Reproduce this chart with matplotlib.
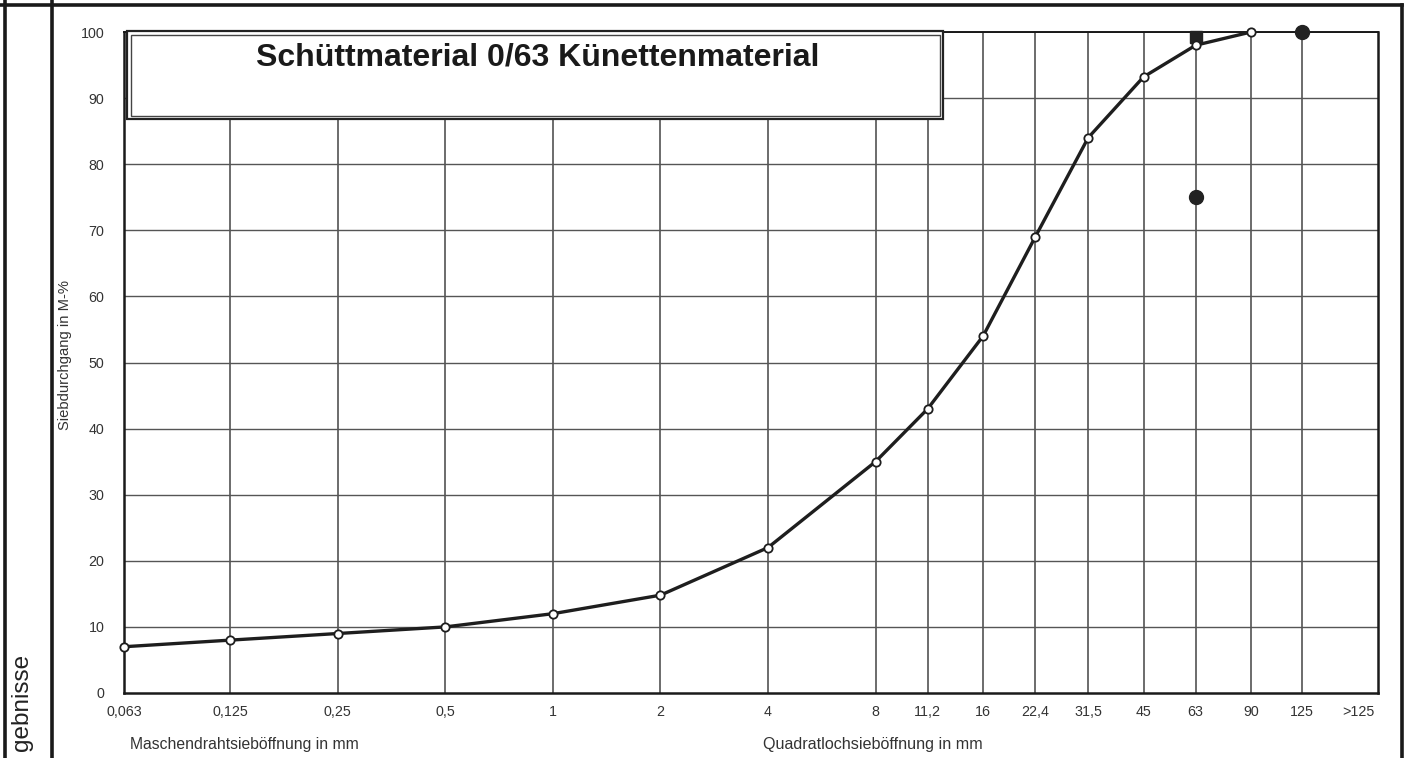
"""
Sieve analysis chart (Sieblinie) - Schüttmaterial 0/63 Künettenmaterial
"""
import matplotlib
matplotlib.use("Agg")
import matplotlib.pyplot as plt
from matplotlib.lines import Line2D
from matplotlib.patches import Rectangle
from matplotlib.ticker import FixedLocator, NullLocator

plt.rcParams["font.family"] = ["Liberation Sans", "DejaVu Sans"]

# sieve sizes (mm) and passing (M-%)
sieve_mm = [0.063, 0.125, 0.25, 0.5, 1, 2, 4, 8, 11.2, 16, 22.4, 31.5, 45, 63, 90]
passing = [7, 8, 9, 10, 12, 14.8, 22, 35, 43, 54, 69, 84, 93.2, 98, 100]

# limit points (black dots)
limit_x = [63, 63, 125]
limit_y = [99.2, 75, 100]

tick_pos = [0.063, 0.125, 0.25, 0.5, 1, 2, 4, 8, 11.2, 16, 22.4, 31.5, 45, 63, 90, 125, 180]
tick_labels = ["0,063", "0,125", "0,25", "0,5", "1", "2", "4", "8", "11,2", "16",
               "22,4", "31,5", "45", "63", "90", "125", ">125"]
grid_pos = tick_pos[1:-1]
y_ticks = list(range(0, 101, 10))

title = "Schüttmaterial 0/63 Künettenmaterial"

W, H = 1412, 758
fig = plt.figure(figsize=(W / 100, H / 100), dpi=100)


def fx(px):
    return px / W


def fy(py):
    return 1 - py / H


# outer sheet frame
for xs, ys in [([5, 5], [0, H]), ([52, 52], [0, H]), ([1402, 1402], [5, H]),
               ([0, 1402], [5, 5])]:
    fig.add_artist(Line2D([fx(x) for x in xs], [fy(y) for y in ys],
                          color="#1a1a1a", lw=2.6, solid_capstyle="projecting"))

fig.text(fx(22), fy(654), "gebnisse", rotation=90, ha="center", va="top",
         fontsize=17.5, color="#222222")

left, right, top, bottom = 124, 1378, 32, 693
ax = fig.add_axes([fx(left), fy(bottom), fx(right - left), (bottom - top) / H])
ax.set_xscale("log")
ax.set_xlim(0.063, 204)
ax.set_ylim(0, 100)

ax.xaxis.set_major_locator(FixedLocator(tick_pos))
ax.xaxis.set_minor_locator(NullLocator())
ax.set_xticklabels(tick_labels)
ax.set_yticks(y_ticks)
ax.tick_params(length=0, labelsize=10.3, colors="#333333")
ax.tick_params(axis="y", pad=14)
ax.tick_params(axis="x", pad=9)

for g in grid_pos:
    ax.axvline(g, color="#444444", lw=1.1, zorder=1)
for yv in y_ticks[1:-1]:
    ax.axhline(yv, color="#555555", lw=1.0, zorder=1)
ax.axhline(100, color="#333333", lw=1.4, zorder=1)

for s in ax.spines.values():
    s.set_linewidth(1.8)
    s.set_color("#1a1a1a")
ax.spines["top"].set_linewidth(1.4)

ax.plot(sieve_mm, passing, color="#1e1e1e", lw=2.4, zorder=4,
        marker="o", markersize=6, markerfacecolor="white",
        markeredgecolor="#1e1e1e", markeredgewidth=1.3, clip_on=False)
ax.plot(limit_x[:1], limit_y[:1], "s", color="#222222", markersize=8, zorder=3, clip_on=False)
ax.plot(limit_x[1:], limit_y[1:], "o", color="#222222", markersize=10, zorder=3, clip_on=False)

fig.text(fx(65), fy(355), "Siebdurchgang in M-%", rotation=90, fontsize=10.6,
         color="#333333", ha="center", va="center")

fig.text(fx(130), fy(745), "Maschendrahtsieböffnung in mm", fontsize=11.3,
         color="#333333", ha="left", va="center")
fig.text(fx(873), fy(745), "Quadratlochsieböffnung in mm", fontsize=11.6,
         color="#333333", ha="center", va="center")

# title box (double frame)
fig.add_artist(Rectangle((fx(127), fy(119)), fx(943 - 127), (119 - 31) / H,
                         facecolor="white", edgecolor="#222222", lw=1.6, zorder=5))
fig.add_artist(Rectangle((fx(131), fy(116)), fx(940 - 131), (116 - 35) / H,
                         facecolor="none", edgecolor="#444444", lw=1.0, zorder=6))
fig.text(fx(538), fy(58), title, fontsize=23, fontweight="bold", color="#1a1a1a",
         ha="center", va="center", zorder=7)

fig.savefig("out.png", dpi=100)
